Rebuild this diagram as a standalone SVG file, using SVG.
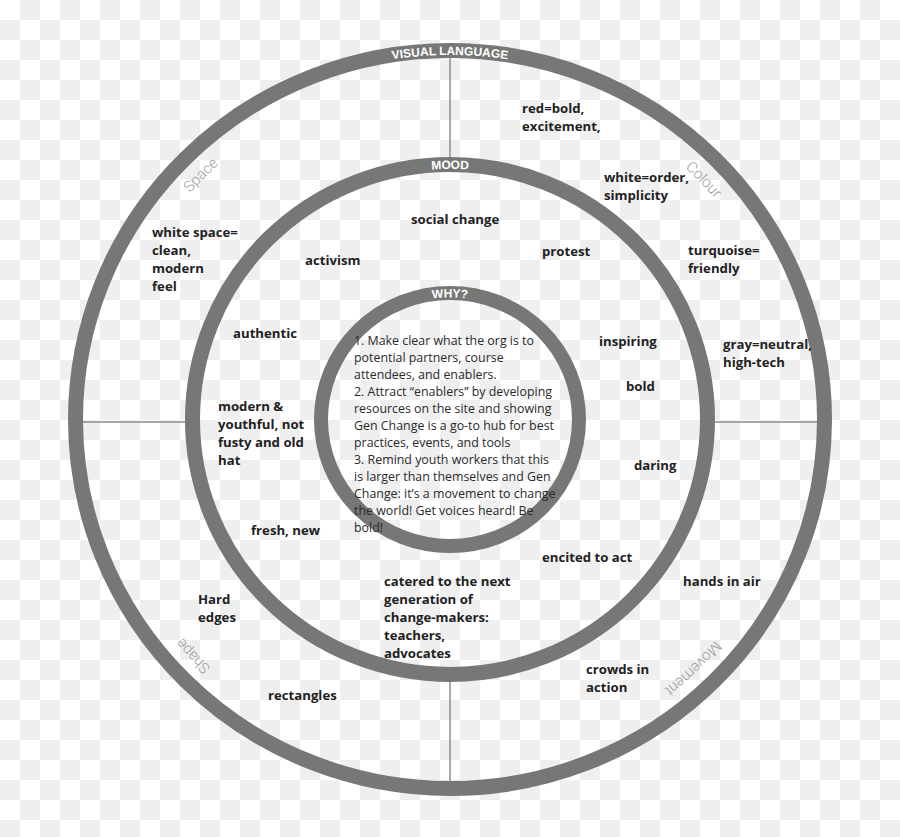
<svg xmlns="http://www.w3.org/2000/svg" width="900" height="837" viewBox="0 0 900 837">
<defs>
<pattern id="chk" width="40" height="40" patternUnits="userSpaceOnUse">
<rect width="40" height="40" fill="#ffffff"/>
<rect x="20" y="0" width="20" height="20" fill="#efefef"/>
<rect x="0" y="20" width="20" height="20" fill="#efefef"/>
</pattern>
<path id="pOuter" d="M 79.8 419.5 A 370.2 364.7 0 0 1 820.2 419.5"/>
<path id="pMood" d="M 196.8 419.5 A 253.2 250.7 0 0 1 703.2 419.5"/>
<path id="pWhy" d="M 325.3 419.5 A 124.7 122.2 0 0 1 574.7 419.5"/>
<path id="pCat" d="M 450 77.5 A 347 342 0 0 1 450 761.5 A 347 342 0 0 1 450 77.5"/>
</defs>
<style>
.ring{fill:none;stroke:#767876}
.div{stroke:#8c8c8c;stroke-width:1.5}
.lbl{font-family:"Open Sans","Liberation Sans",sans-serif;font-weight:700;font-size:13.2px;fill:#222}
.body{font-family:"Open Sans","Liberation Sans",sans-serif;font-size:12.4px;fill:#2a2a2a}
.ringlbl{font-family:"Liberation Sans",Arial,sans-serif;font-weight:700;font-size:12px;fill:#ffffff}
.cat{font-family:Roboto,"Open Sans",sans-serif;font-weight:300;font-size:15px;fill:#9d9d9d}
</style>
<rect width="900" height="837" fill="url(#chk)"/>
<g id="rings">
<ellipse cx="450" cy="419.5" rx="374.5" ry="369" fill="#fdfdfc" class="ring" stroke-width="15"/>
<ellipse cx="450" cy="419.5" rx="257.5" ry="255" fill="#fdfdfc" class="ring" stroke-width="15"/>
<ellipse cx="450" cy="419.5" rx="129" ry="126.5" fill="#ffffff" class="ring" stroke-width="14"/>
</g>
<g id="connectors">
<line class="div" x1="450" y1="58" x2="450" y2="157"/>
<line class="div" x1="450" y1="682" x2="450" y2="781"/>
<line class="div" x1="83" y1="422" x2="185" y2="422"/>
<line class="div" x1="715" y1="422" x2="817" y2="422"/>
</g>
<g id="ring-labels">
<text class="ringlbl" text-anchor="middle"><textPath href="#pOuter" startOffset="50%">VISUAL LANGUAGE</textPath></text>
<text class="ringlbl" text-anchor="middle"><textPath href="#pMood" startOffset="50%">MOOD</textPath></text>
<text class="ringlbl" text-anchor="middle"><textPath href="#pWhy" startOffset="50%">WHY?</textPath></text>
</g>
<g id="categories">
<text class="cat" text-anchor="middle"><textPath href="#pCat" startOffset="87.4%">Space</textPath></text>
<text class="cat" text-anchor="middle"><textPath href="#pCat" startOffset="12.9%">Colour</textPath></text>
<text class="cat" text-anchor="middle"><textPath href="#pCat" startOffset="37.75%">Movement</textPath></text>
<text class="cat" text-anchor="middle"><textPath href="#pCat" startOffset="63.1%">Shape</textPath></text>
</g>
<g id="why-text">
<text class="body" x="354">
<tspan x="354" y="345">1. Make clear what the org is to</tspan>
<tspan x="354" y="362">potential partners, course</tspan>
<tspan x="354" y="379">attendees, and enablers.</tspan>
<tspan x="354" y="396">2. Attract “enablers” by developing</tspan>
<tspan x="354" y="413">resources on the site and showing</tspan>
<tspan x="354" y="430">Gen Change is a go-to hub for best</tspan>
<tspan x="354" y="447">practices, events, and tools</tspan>
<tspan x="354" y="464">3. Remind youth workers that this</tspan>
<tspan x="354" y="481">is larger than themselves and Gen</tspan>
<tspan x="354" y="498">Change: it’s a movement to change</tspan>
<tspan x="354" y="515">the world! Get voices heard! Be</tspan>
<tspan x="354" y="532">bold!</tspan>
</text>
</g>
<g id="colour-red"><text class="lbl"><tspan x="522" y="113">red=bold,</tspan><tspan x="522" y="131">excitement,</tspan></text></g>
<g id="colour-white"><text class="lbl"><tspan x="604" y="182">white=order,</tspan><tspan x="604" y="200">simplicity</tspan></text></g>
<g id="colour-turquoise"><text class="lbl"><tspan x="688" y="255">turquoise=</tspan><tspan x="688" y="273">friendly</tspan></text></g>
<g id="colour-gray"><text class="lbl"><tspan x="723" y="349">gray=neutral,</tspan><tspan x="723" y="367">high-tech</tspan></text></g>
<g id="movement-hands"><text class="lbl" x="683" y="586">hands in air</text></g>
<g id="movement-crowds"><text class="lbl"><tspan x="586" y="674">crowds in</tspan><tspan x="586" y="692">action</tspan></text></g>
<g id="shape-rectangles"><text class="lbl" x="268" y="700">rectangles</text></g>
<g id="shape-hard"><text class="lbl"><tspan x="198" y="604">Hard</tspan><tspan x="198" y="622">edges</tspan></text></g>
<g id="space-white"><text class="lbl"><tspan x="152" y="237">white space=</tspan><tspan x="152" y="255">clean,</tspan><tspan x="152" y="273">modern</tspan><tspan x="152" y="291">feel</tspan></text></g>
<g id="mood-social"><text class="lbl" x="411" y="224">social change</text></g>
<g id="mood-protest"><text class="lbl" x="542" y="256">protest</text></g>
<g id="mood-activism"><text class="lbl" x="305" y="265">activism</text></g>
<g id="mood-authentic"><text class="lbl" x="233" y="338">authentic</text></g>
<g id="mood-inspiring"><text class="lbl" x="599" y="346">inspiring</text></g>
<g id="mood-bold"><text class="lbl" x="626" y="391">bold</text></g>
<g id="mood-modern"><text class="lbl"><tspan x="218" y="411">modern &amp;</tspan><tspan x="218" y="429">youthful, not</tspan><tspan x="218" y="447">fusty and old</tspan><tspan x="218" y="465">hat</tspan></text></g>
<g id="mood-daring"><text class="lbl" x="634" y="470">daring</text></g>
<g id="mood-fresh"><text class="lbl" x="251" y="535">fresh, new</text></g>
<g id="mood-encited"><text class="lbl" x="542" y="562">encited to act</text></g>
<g id="mood-catered"><text class="lbl"><tspan x="384" y="586">catered to the next</tspan><tspan x="384" y="604">generation of</tspan><tspan x="384" y="622">change-makers:</tspan><tspan x="384" y="640">teachers,</tspan><tspan x="384" y="658">advocates</tspan></text></g>
</svg>
